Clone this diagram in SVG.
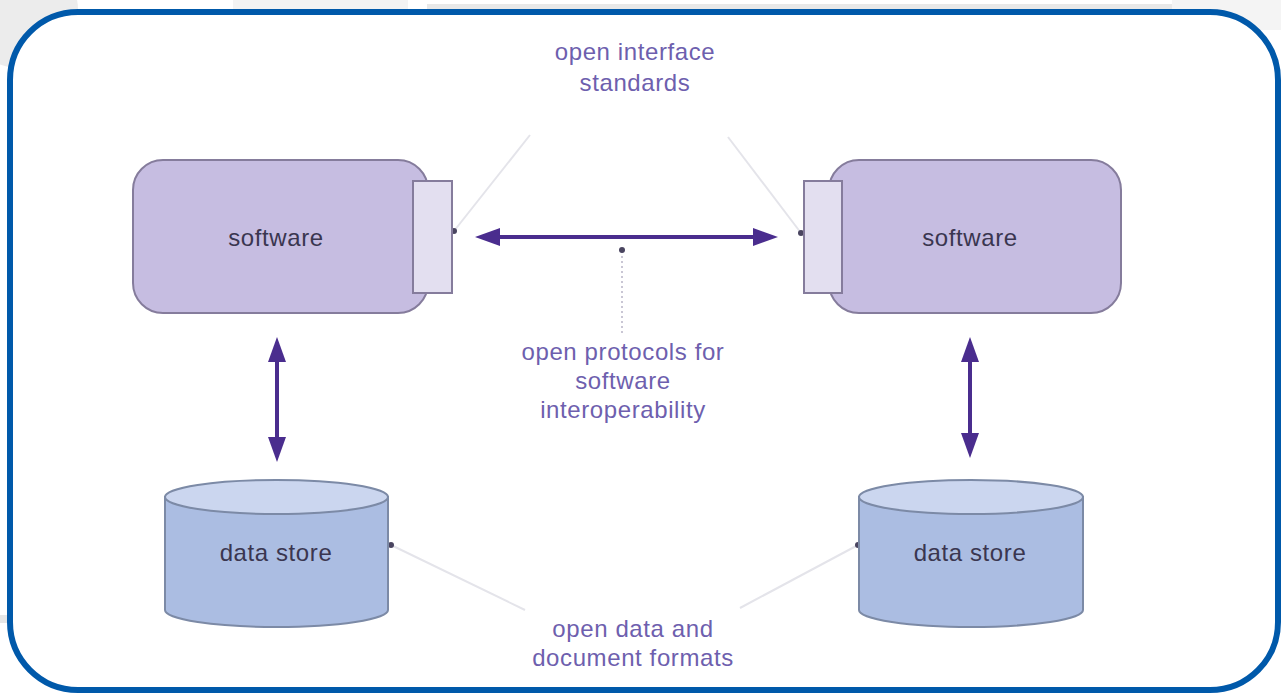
<svg xmlns="http://www.w3.org/2000/svg" width="1281" height="694" viewBox="0 0 1281 694">
  <defs>
    <style>
      .sw { fill: #c6bde1; stroke: #857c9c; stroke-width: 2; }
      .port { fill: #e3dff0; stroke: #857c9c; stroke-width: 2; }
      .body { fill: #abbde2; stroke: #7c8aa6; stroke-width: 2; }
      .lid { fill: #cbd6ef; stroke: #7c8aa6; stroke-width: 2; }
      .nodelabel { font-family: "Liberation Sans", Arial, sans-serif; font-size: 24px; letter-spacing: 0.6px; fill: #3a3650; text-anchor: middle; }
      .note { font-family: "Liberation Sans", Arial, sans-serif; font-size: 24px; letter-spacing: 0.6px; fill: #6e5fae; text-anchor: middle; }
      .link { stroke: #4a2d8e; stroke-width: 4; fill: none; }
      .pointer { stroke: #e4e4ea; stroke-width: 2; fill: none; }
      .dotted { stroke: #c9c6d4; stroke-width: 2; stroke-dasharray: 2 3; fill: none; }
    </style>
    <!-- arrowhead drawn beyond the line end: base sits on the end point -->
    <marker id="head" viewBox="0 0 25 18" refX="0" refY="9" markerWidth="25" markerHeight="18" orient="auto-start-reverse" markerUnits="userSpaceOnUse">
      <path d="M0,0 L25,9 L0,18 z" fill="#4a2d8e"/>
    </marker>
    <marker id="dot" viewBox="0 0 6 6" refX="3" refY="3" markerWidth="3" markerHeight="3" markerUnits="strokeWidth">
      <circle cx="3" cy="3" r="3" fill="#4a4560"/>
    </marker>
  </defs>

  <!-- page background behind the frame -->
  <rect x="0" y="0" width="1281" height="694" fill="#ffffff"/>
  <circle cx="20" cy="10" r="58" fill="#ececec"/>
  <rect x="233" y="0" width="175" height="14" fill="#f3f3f3"/>
  <rect x="427" y="4" width="745" height="10" fill="#e8e8e8"/>
  <rect x="1172" y="0" width="109" height="30" fill="#f4f4f4"/>
  <rect x="0" y="615" width="10" height="8" fill="#e6e6e6"/>

  <!-- outer frame -->
  <rect x="10" y="12" width="1268" height="678" rx="68" ry="68" fill="#ffffff" stroke="#0059aa" stroke-width="6"/>

  <!-- connectors -->
  <g id="connectors">
    <line class="link" x1="500" y1="237" x2="753" y2="237" marker-start="url(#head)" marker-end="url(#head)"/>
    <line class="link" x1="277" y1="362" x2="277" y2="437" stroke-width="3" marker-start="url(#head)" marker-end="url(#head)"/>
    <line class="link" x1="970" y1="362" x2="970" y2="433" stroke-width="3" marker-start="url(#head)" marker-end="url(#head)"/>
    <!-- label pointers -->
    <line class="pointer" x1="530" y1="135" x2="454" y2="231" marker-end="url(#dot)"/>
    <line class="pointer" x1="728" y1="137" x2="801" y2="233" marker-end="url(#dot)"/>
    <line class="dotted" x1="622" y1="333" x2="622" y2="250" marker-end="url(#dot)"/>
    <line class="pointer" x1="525" y1="610" x2="391" y2="545" marker-end="url(#dot)"/>
    <line class="pointer" x1="740" y1="608" x2="858" y2="545" marker-end="url(#dot)"/>
  </g>

  <!-- software nodes -->
  <g id="software-left">
    <rect class="sw" x="133" y="160" width="295" height="153" rx="30" ry="30"/>
    <rect class="port" x="413" y="181" width="39" height="112"/>
    <text class="nodelabel" x="276" y="246">software</text>
  </g>
  <g id="software-right">
    <rect class="sw" x="829" y="160" width="292" height="153" rx="30" ry="30"/>
    <rect class="port" x="804" y="181" width="38" height="112"/>
    <text class="nodelabel" x="970" y="246">software</text>
  </g>

  <!-- data stores -->
  <g id="datastore-left">
    <path class="body" d="M165,497 L165,610 A111.5,17 0 0 0 388,610 L388,497 Z"/>
    <ellipse class="lid" cx="276.5" cy="497" rx="111.5" ry="17"/>
    <text class="nodelabel" x="276" y="561">data store</text>
  </g>
  <g id="datastore-right">
    <path class="body" d="M859,497 L859,610 A112,17 0 0 0 1083,610 L1083,497 Z"/>
    <ellipse class="lid" cx="971" cy="497" rx="112" ry="17"/>
    <text class="nodelabel" x="970" y="561">data store</text>
  </g>

  <!-- annotations -->
  <g id="label-interface">
    <text class="note" x="635" y="60">open interface</text>
    <text class="note" x="635" y="91">standards</text>
  </g>
  <g id="label-protocols">
    <text class="note" x="623" y="360">open protocols for</text>
    <text class="note" x="623" y="389">software</text>
    <text class="note" x="623" y="418">interoperability</text>
  </g>
  <g id="label-formats">
    <text class="note" x="633" y="637">open data and</text>
    <text class="note" x="633" y="666">document formats</text>
  </g>
</svg>
